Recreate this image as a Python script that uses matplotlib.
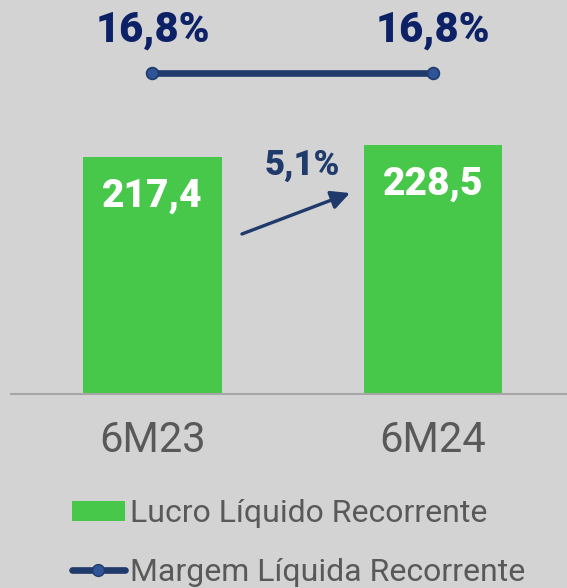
import matplotlib
matplotlib.use("Agg")
from matplotlib import pyplot as plt
from matplotlib.patches import Patch
from matplotlib.lines import Line2D

# dados
periodos = ['6M23', '6M24']
lucro = [217.4, 228.5]
margem = [16.8, 16.8]
lucro_txt = ['217,4', '228,5']
margem_txt = ['16,8%', '16,8%']
crescimento_txt = '5,1%'

fundo = '#d3d3d3'
verde = '#47c84a'
azul = '#1f3a6b'
azul_escuro = '#0d2167'
cinza = '#595959'

plt.rcParams['font.family'] = ['Roboto', 'DejaVu Sans']

fig = plt.figure(figsize=(5.67, 5.88), dpi=100, facecolor=fundo)
ax = fig.add_axes([11 / 567, 1 - 394 / 588, 1 - 11 / 567, 394 / 588])
ax.set_facecolor(fundo)

x = list(range(len(periodos)))
ax.bar(x, lucro, width=0.495, color=verde, zorder=2)
ax.set_xlim(-0.5045, 1.478)
ax.set_ylim(0, 361.5)

for s in ['top', 'right', 'left']:
    ax.spines[s].set_visible(False)
ax.spines['bottom'].set_color('#a6a6a6')
ax.spines['bottom'].set_linewidth(1.5)
ax.set_yticks([])
ax.set_xticks(x)
ax.set_xticklabels(periodos, fontsize=30, color=cinza)
ax.tick_params(axis='x', length=0, pad=19)

# rótulos das barras
for i, v in enumerate(lucro):
    ax.annotate(lucro_txt[i], (x[i], v), xytext=(0, -28), textcoords='offset points',
                ha='center', va='center', fontsize=28, fontweight='black', color='white')

# seta de crescimento
ax.annotate('', xy=(0.704, 184.4), xytext=(0.319, 146.8),
            arrowprops=dict(arrowstyle='-|>', color=azul, lw=2.4, mutation_scale=28,
                            shrinkA=0, shrinkB=0))
ax.text(0.533, 210, crescimento_txt, ha='center', va='center', fontsize=25,
        fontweight='black', color=azul)

# margem
ax2 = ax.twinx()
ax2.set_ylim(0, 16.8 / 0.8147)
ax2.axis('off')
ax2.plot(x, margem, color=azul, lw=4.8, marker='o', markersize=8.5,
         markerfacecolor='#2f5597', markeredgecolor=azul, markeredgewidth=1.2, zorder=3)
for i, v in enumerate(margem):
    ax2.annotate(margem_txt[i], (x[i], v), xytext=(0, 31), textcoords='offset points',
                 ha='center', va='center', fontsize=30, fontweight='black', color=azul_escuro)

# legenda
handles = [Patch(facecolor=verde, edgecolor='none'),
           Line2D([0], [0], color=azul, lw=4.8, marker='o', markersize=8.5,
                  markerfacecolor='#2f5597', markeredgecolor=azul, solid_capstyle='round')]
fig.legend(handles, ['Lucro Líquido Recorrente', 'Margem Líquida Recorrente'],
           loc='upper left', bbox_to_anchor=(72 / 567, 1 - 499 / 588), frameon=False,
           fontsize=23, labelcolor=cinza, handlelength=1.65, handleheight=0.6,
           handletextpad=0.15, labelspacing=0.93, borderpad=0, borderaxespad=0)

fig.savefig('out.png', dpi=100, facecolor=fundo)
